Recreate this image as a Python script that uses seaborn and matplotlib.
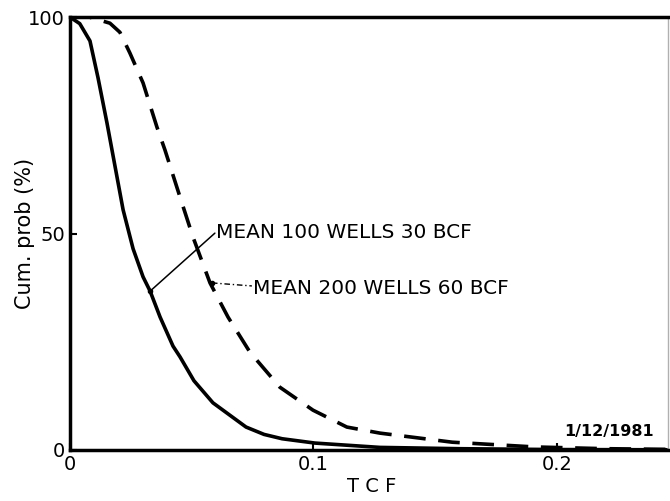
import matplotlib
matplotlib.use("Agg")
import matplotlib.pyplot as plt
import pandas as pd
import seaborn as sns

# values
tcf_100 = [0.0, 0.004, 0.0082, 0.0115, 0.0152, 0.0185, 0.0218, 0.0259, 0.030,
           0.0329, 0.037, 0.0423, 0.0452, 0.0509, 0.0587, 0.0723, 0.0797,
           0.0871, 0.1006, 0.1273, 0.16, 0.2, 0.245]
prob_100 = [100, 98.5, 94.5, 86, 75.5, 65.5, 55.5, 46.5, 40, 36.7, 30.7, 24,
            21.5, 16, 10.9, 5.3, 3.6, 2.6, 1.6, 0.6, 0.3, 0.1, 0.05]

tcf_200 = [0.0, 0.008, 0.0164, 0.0205, 0.0246, 0.030, 0.0357, 0.039, 0.0452,
           0.0505, 0.0575, 0.0649, 0.0739, 0.0862, 0.0998, 0.1137, 0.1273,
           0.157, 0.191, 0.22, 0.245]
prob_200 = [100, 100, 98.6, 96.5, 91.7, 84.8, 74.6, 69.3, 58.4, 49.2, 38.6,
            30.7, 22.6, 14.5, 9.2, 5.3, 3.9, 1.8, 0.7, 0.3, 0.15]

label_100 = "MEAN 100 WELLS 30 BCF"
label_200 = "MEAN 200 WELLS 60 BCF"

df = pd.concat([
    pd.DataFrame({"TCF": tcf_100, "prob": prob_100, "case": label_100}),
    pd.DataFrame({"TCF": tcf_200, "prob": prob_200, "case": label_200}),
])

sns.set_style("ticks")
plt.rcParams["font.family"] = ["DejaVu Sans"]
plt.rcParams["text.color"] = "black"
plt.rcParams["axes.labelcolor"] = "black"

fig = plt.figure(figsize=(6.7, 5.01), dpi=100)
ax = fig.add_axes([0.1045, 0.1018, 0.8925, 0.864])

sns.lineplot(data=df, x="TCF", y="prob", style="case",
             dashes={label_100: "", label_200: (6, 3.5)},
             color="black", linewidth=2.6, legend=False, ax=ax)

ax.set_xlim(0, 0.2456)
ax.set_ylim(0, 100)
ax.set_xticks([0, 0.1, 0.2])
ax.set_xticklabels(["0", "0.1", "0.2"])
ax.set_yticks([0, 50, 100])
ax.set_yticklabels(["0", "50", "100"])
ax.tick_params(direction="in", length=5, width=1.5, labelsize=14, colors="black")
ax.set_xlabel("T C F", fontsize=14)
ax.xaxis.set_label_coords(0.505, -0.062)
ax.set_ylabel("Cum. prob (%)", fontsize=15)
ax.yaxis.set_label_coords(-0.058, 0.5)

for side in ["left", "bottom", "top"]:
    ax.spines[side].set_linewidth(2.5)
    ax.spines[side].set_color("black")
ax.spines["right"].set_linewidth(1.0)
ax.spines["right"].set_color("#b0b0b0")

# leader lines and labels
ax.plot([0.0329, 0.0595], [36.7, 50.1], color="black", linewidth=1.1)
ax.plot([0.0329], [36.7], "o", color="black", markersize=3)
ax.text(0.0598, 50.3, label_100, fontsize=14.5, va="center", ha="left")

ax.plot([0.0583, 0.0747], [38.6, 37.9], color="black", linewidth=1.0,
        linestyle=(0, (4, 2, 1, 2)))
ax.plot([0.0583], [38.6], "o", color="black", markersize=3)
ax.text(0.0752, 37.4, label_200, fontsize=14.5, va="center", ha="left")

ax.text(0.2215, 4.3, "1/12/1981", fontsize=11.5, fontweight="bold",
        ha="center", va="center")

fig.savefig("out.png", dpi=100)
